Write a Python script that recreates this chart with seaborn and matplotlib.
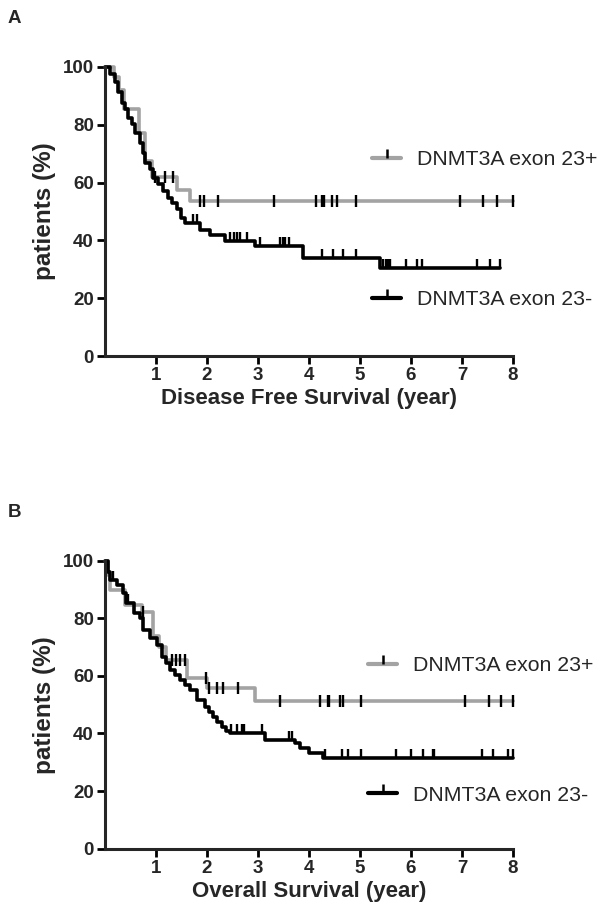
import matplotlib
matplotlib.use("Agg")
import matplotlib.pyplot as plt
import numpy as np
import seaborn as sns
from matplotlib.lines import Line2D

# ---- data (time in years, survival in %) ----
dfs_pos_t = [0, 0.18, 0.28, 0.38, 0.66, 0.78, 0.92, 1.42, 1.66, 8.0]
dfs_pos_s = [100, 96.5, 92, 85.5, 77, 67.5, 62, 57.5, 53.5, 53.5]
dfs_pos_cens = [0.98, 1.18, 1.34, 1.86, 1.94, 2.21, 3.32, 4.13, 4.26, 4.29,
                4.46, 4.54, 4.93, 6.96, 7.42, 7.68, 8.0]

dfs_neg_t = [0, 0.1, 0.2, 0.26, 0.33, 0.39, 0.46, 0.52, 0.59, 0.69, 0.75,
             0.79, 0.88, 0.94, 1.04, 1.14, 1.24, 1.31, 1.41, 1.5, 1.57,
             1.86, 2.05, 2.35, 2.94, 3.88, 5.39, 7.75]
dfs_neg_s = [100, 97.6, 94.7, 91.2, 87.7, 85.4, 82.5, 80.2, 77.3, 73.8, 70.4,
             66.9, 64.6, 61.7, 59.4, 57, 54.7, 53, 50.7, 47.8, 46,
             43.7, 42, 39.7, 38, 34, 30.5, 30.5]
dfs_neg_cens = [1.73, 1.8, 2.45, 2.52, 2.58, 2.65, 2.78, 3.04, 3.43, 3.49,
                3.53, 3.6, 4.25, 4.48, 4.67, 4.93, 5.46, 5.51, 5.55, 5.59,
                5.9, 6.11, 6.21, 7.29, 7.55, 7.75]

os_pos_t = [0, 0.05, 0.1, 0.39, 0.72, 0.95, 1.05, 1.2, 1.6, 2.0, 2.94, 8.0]
os_pos_s = [100, 95, 89.8, 84.5, 82.1, 74, 70, 65.4, 59.2, 55.8, 51.4, 51.4]
os_pos_cens = [0.75, 1.31, 1.39, 1.47, 1.57, 1.98, 2.03, 2.19, 2.32, 2.61,
               3.43, 4.22, 4.37, 4.39, 4.61, 4.66, 5.02, 7.06, 7.52, 7.76, 7.99]

os_neg_t = [0, 0.05, 0.1, 0.23, 0.36, 0.42, 0.56, 0.69, 0.75, 0.88, 1.01,
            1.11, 1.2, 1.27, 1.37, 1.47, 1.57, 1.67, 1.8, 1.96, 2.04, 2.12,
            2.2, 2.29, 2.37, 2.45, 3.14, 3.73, 3.82, 4.0, 4.28, 8.0]
os_neg_s = [100, 96, 93.4, 91.6, 88.7, 85.2, 81.7, 80, 75.9, 73, 70.7,
            66.7, 64.5, 62, 60.3, 58.6, 56.8, 55.1, 51.6, 49.3, 47.5, 45.8,
            44, 42.3, 41, 40.3, 37.7, 36.6, 34.9, 33.1, 31.4, 31.4]
os_neg_cens = [0.15, 0.45, 2.48, 2.58, 2.68, 2.73, 3.07, 3.6, 3.66, 4.31, 4.64,
               4.77, 5.02, 5.71, 6.0, 6.23, 6.43, 6.45, 7.39, 7.61, 7.91, 7.99]

x_ticks = [1, 2, 3, 4, 5, 6, 7, 8]
y_ticks = [0, 20, 40, 60, 80, 100]
label_pos = "DNMT3A exon 23+"
label_neg = "DNMT3A exon 23-"

GRAY = "#a3a3a3"
BLACK = "#000000"
UP_TICK = [(0, 0), (0, 1)]   # censor tick drawn above the line

sns.set_style("ticks")
plt.rcParams["font.family"] = ["Liberation Sans", "DejaVu Sans"]


def level_at(t, s, c):
    idx = np.searchsorted(np.asarray(t), np.asarray(c), side="right") - 1
    return np.asarray(s)[idx]


def km_panel(ax, pos, neg, xlabel, leg_x, pos_y, neg_y):
    for (t, s, cens), color, mk, ms in [(pos, GRAY, "|", 8), (neg, BLACK, UP_TICK, 13)]:
        sns.lineplot(x=t, y=s, drawstyle="steps-post", color=color,
                     linewidth=2.6, estimator=None, ax=ax, clip_on=False)
        # censor ticks are black on both curves
        ax.plot(cens, level_at(t, s, cens), linestyle="none", marker=mk,
                markersize=ms, markeredgewidth=1.7, color=BLACK, clip_on=False)

    ax.set_xlim(0, 8)
    ax.set_ylim(0, 100)
    ax.set_xticks(x_ticks)
    ax.set_yticks(y_ticks)
    ax.set_xlabel(xlabel, fontsize=16, fontweight="bold", labelpad=3)
    ax.set_ylabel("patients (%)", fontsize=17.5, fontweight="bold", labelpad=5)
    for lab in ax.get_xticklabels() + ax.get_yticklabels():
        lab.set_fontweight("bold")
    ax.tick_params(labelsize=13.5, width=2, length=6, pad=2, color="black")
    for side in ["left", "bottom"]:
        ax.spines[side].set_linewidth(2.2)
    sns.despine(ax=ax)

    handles = [Line2D([], [], color=c, lw=3, marker=UP_TICK, markersize=13,
                      markeredgewidth=1.8, markeredgecolor="black")
               for c in (GRAY, BLACK)]
    kw = dict(frameon=False, fontsize=15.3, handlelength=1.35,
              handletextpad=0.75, borderpad=0, borderaxespad=0,
              loc="center left")
    leg1 = ax.legend(handles=[handles[0]], labels=[label_pos],
                     bbox_to_anchor=(leg_x, pos_y), **kw)
    ax.add_artist(leg1)
    ax.legend(handles=[handles[1]], labels=[label_neg],
              bbox_to_anchor=(leg_x, neg_y), **kw)


fig = plt.figure(figsize=(6.01, 9.19), dpi=100)
ax1 = fig.add_axes([0.1747, 0.6126, 0.6789, 0.3145])
ax2 = fig.add_axes([0.1747, 0.0765, 0.6789, 0.3134])

km_panel(ax1, (dfs_pos_t, dfs_pos_s, dfs_pos_cens),
         (dfs_neg_t, dfs_neg_s, dfs_neg_cens),
         "Disease Free Survival (year)", 0.655, 0.68, 0.195)
km_panel(ax2, (os_pos_t, os_pos_s, os_pos_cens),
         (os_neg_t, os_neg_s, os_neg_cens),
         "Overall Survival (year)", 0.645, 0.635, 0.185)

fig.text(0.013, 0.980, "A", fontsize=13.5, fontweight="bold", va="center")
fig.text(0.013, 0.442, "B", fontsize=13.5, fontweight="bold", va="center")

fig.savefig("out.png", dpi=100)
